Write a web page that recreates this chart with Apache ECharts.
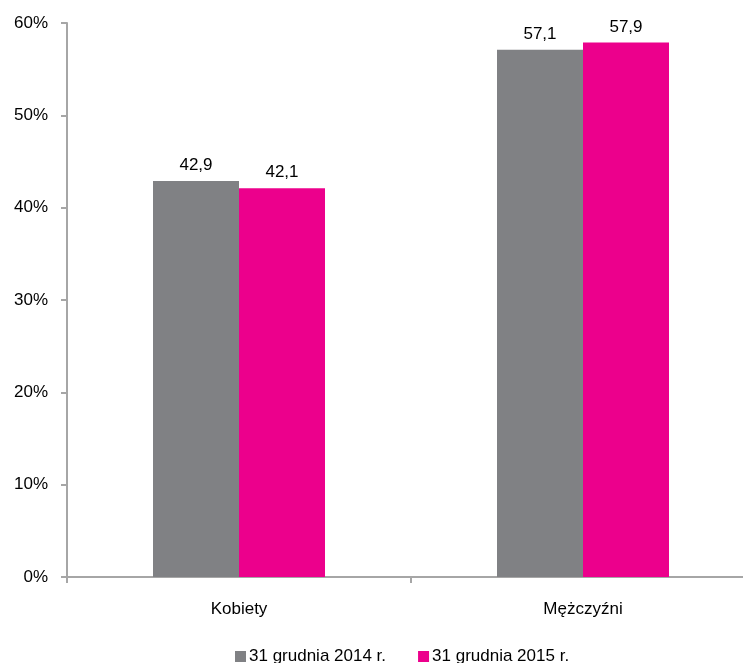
<!DOCTYPE html>
<html><head><meta charset="utf-8">
<script src="https://cdn.jsdelivr.net/npm/echarts@6/dist/echarts.min.js"></script>
<style>html,body{margin:0;padding:0;background:#fff}#c{width:743px;height:663px}</style>
</head><body><div id="c"></div>
<script>
const categories = ['Kobiety', 'Mężczyźni'];
const seriesNames = ['31 grudnia 2014 r.', '31 grudnia 2015 r.'];
const values2014 = [42.9, 57.1];
const values2015 = [42.1, 57.9];
const yTicks = [0, 10, 20, 30, 40, 50, 60];

const chart = echarts.init(document.getElementById('c'));
const font = 'Liberation Sans, Arial, sans-serif';
const lbl = {show: true, position: 'top', distance: 7, color: '#000', fontSize: 17, fontFamily: font,
  formatter: p => String(p.value).replace('.', ',')};
chart.setOption({
  animation: false,
  grid: {left: 67, top: 23, width: 688, bottom: 86, outerBoundsMode: 'none', containLabel: false},
  legend: {top: 648, left: 235, padding: 0, itemWidth: 11, itemHeight: 11, itemGap: 32,
    icon: 'rect', textStyle: {fontSize: 17, fontFamily: font, color: '#000', padding: [0, 0, 0, -2]}, data: seriesNames},
  xAxis: {type: 'category', data: categories,
    axisLine: {lineStyle: {color: '#a6a6a6', width: 2}},
    axisTick: {show: true, length: 6, lineStyle: {color: '#a6a6a6', width: 2}},
    axisLabel: {fontSize: 17, fontFamily: font, color: '#000', margin: 24}},
  yAxis: {type: 'value', min: yTicks[0], max: yTicks[yTicks.length - 1], interval: 10,
    axisLine: {show: true, lineStyle: {color: '#a6a6a6', width: 2}},
    axisTick: {show: true, length: 6, lineStyle: {color: '#a6a6a6', width: 2}},
    splitLine: {show: false},
    axisLabel: {fontSize: 17, fontFamily: font, color: '#000', margin: 19, formatter: v => v + '%'}},
  series: [
    {name: seriesNames[0], type: 'bar', data: values2014, barWidth: 86, barGap: '0%',
      itemStyle: {color: '#808184'}, label: lbl},
    {name: seriesNames[1], type: 'bar', data: values2015, barWidth: 86, barGap: '0%',
      itemStyle: {color: '#ec008c'}, label: lbl}
  ]
});
</script></body></html>
